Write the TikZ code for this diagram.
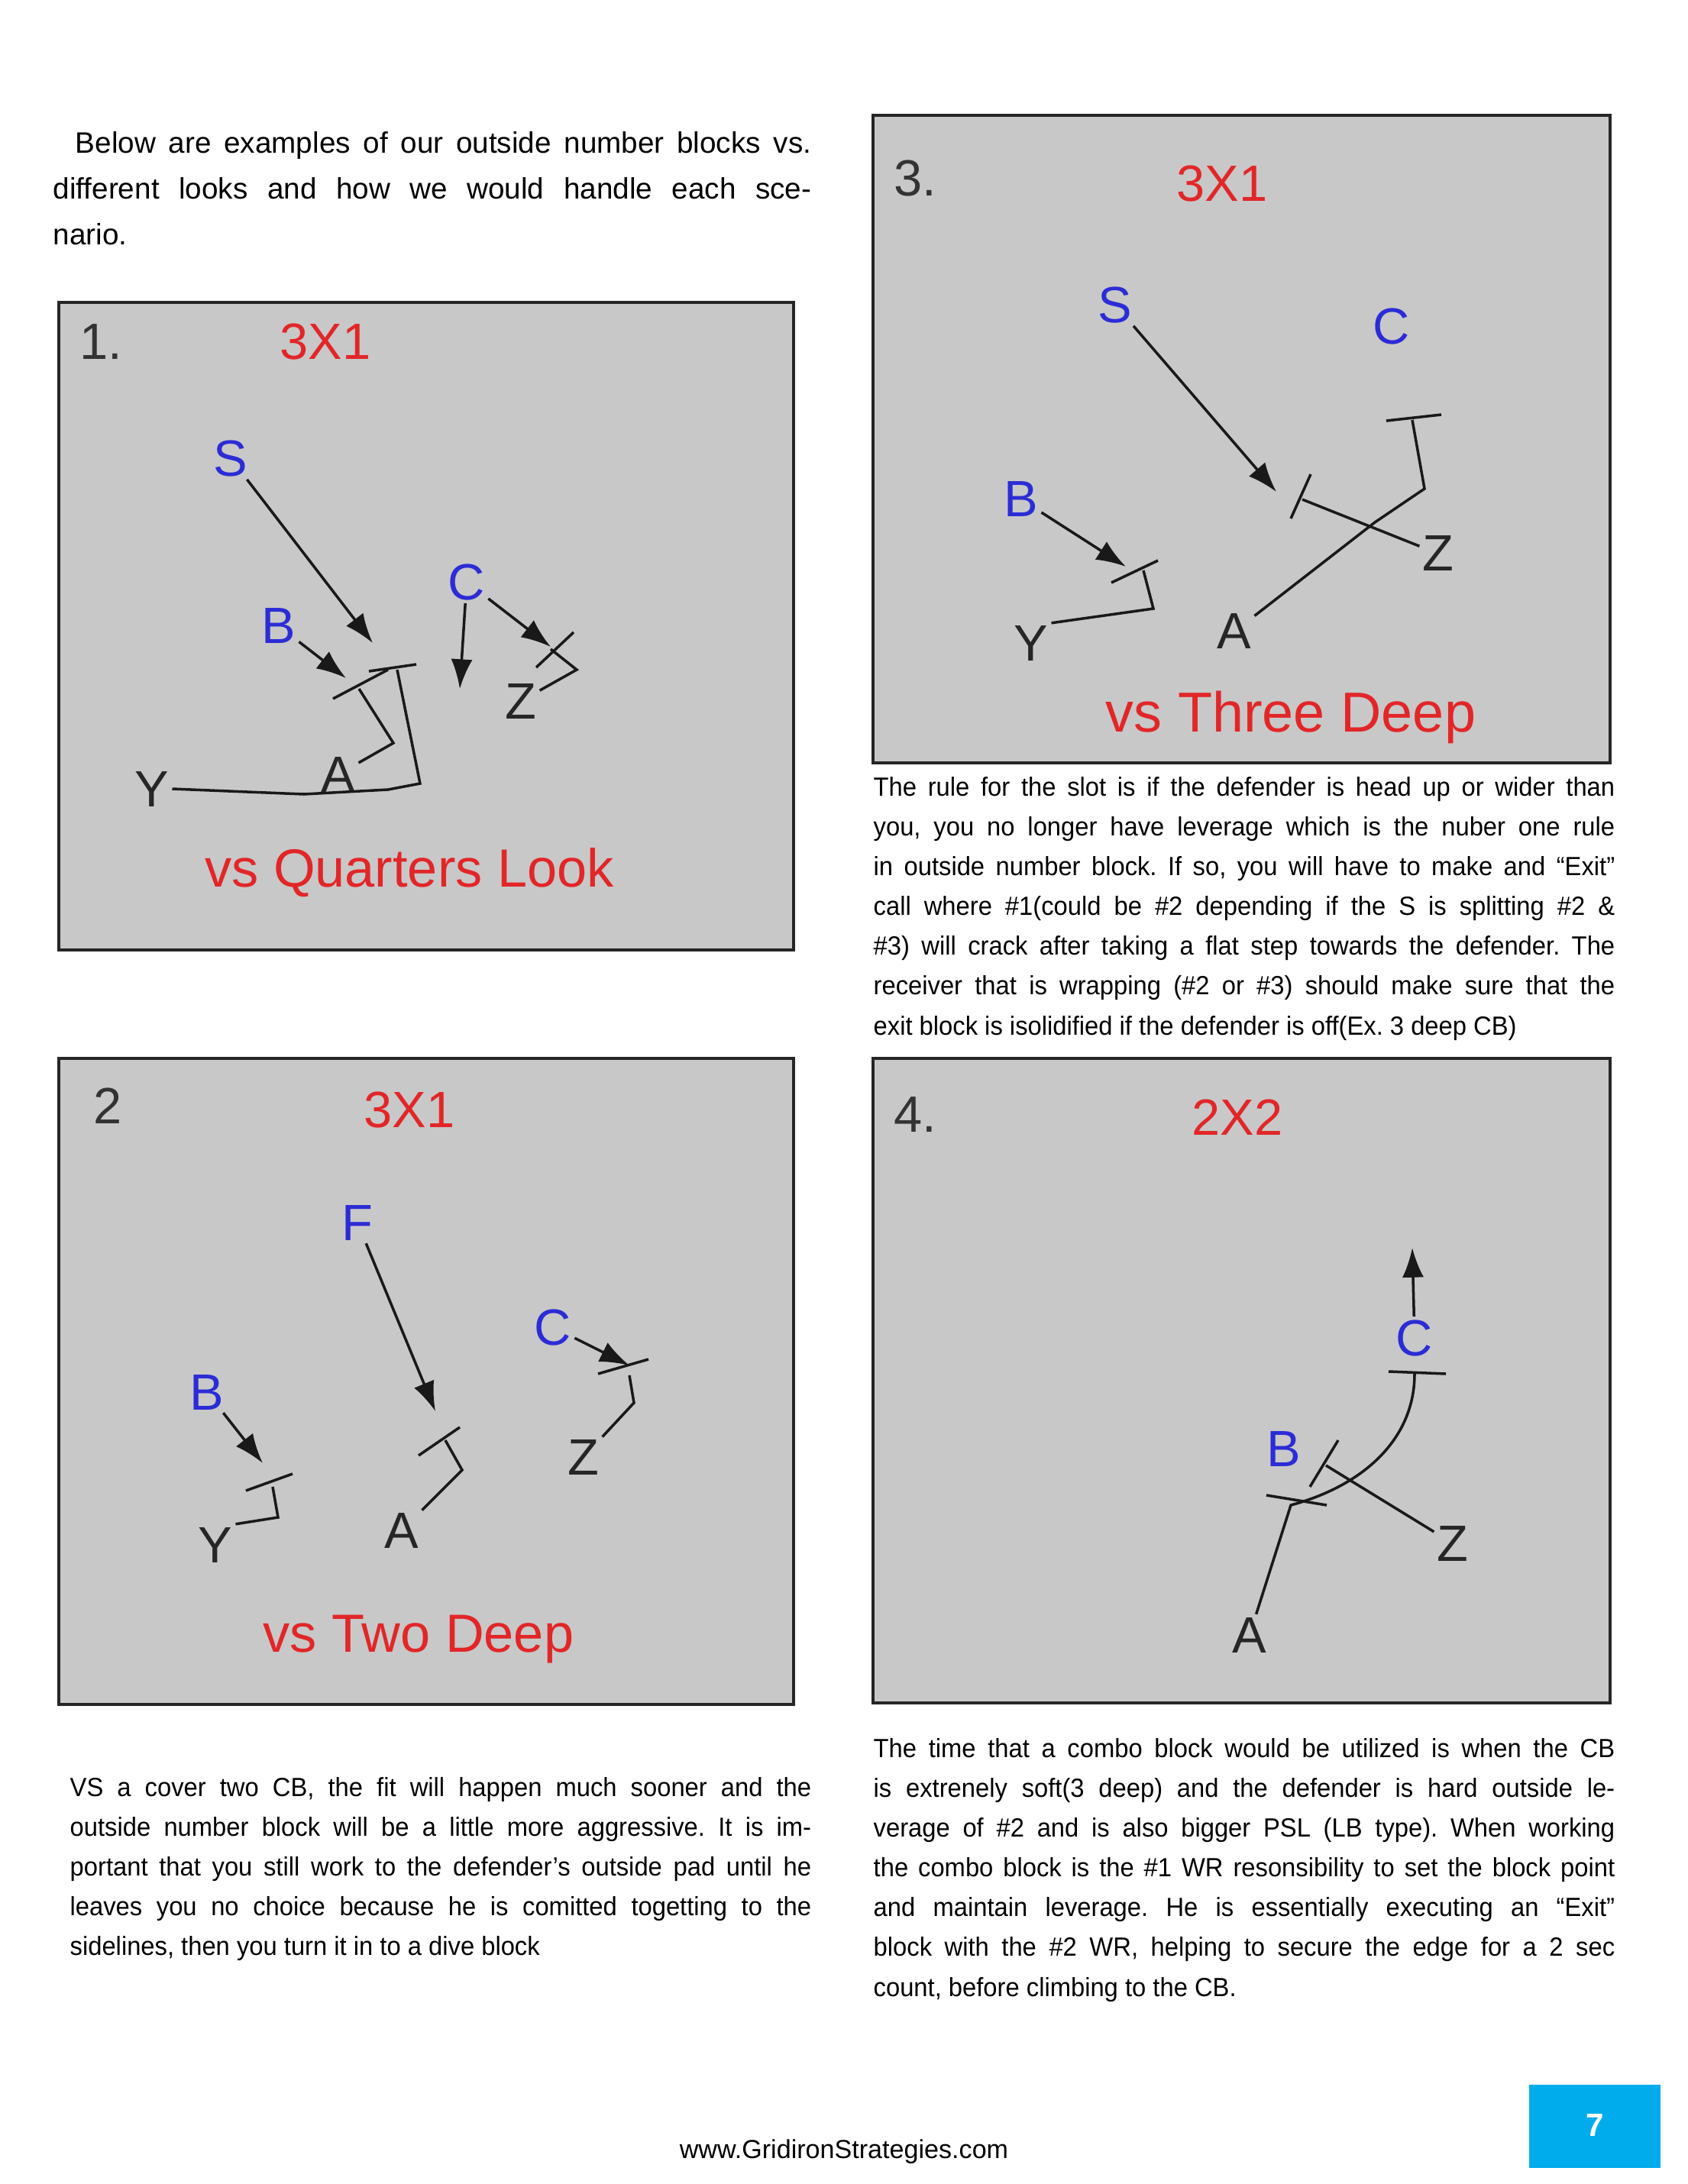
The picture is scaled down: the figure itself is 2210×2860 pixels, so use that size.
\documentclass[tikz,border=0pt]{standalone}
\usepackage{fontspec}
\setmainfont{Liberation Sans}
\newfontfamily\bodyfont[Ligatures=TeX,FakeStretch=0.95]{Liberation Sans}
\usetikzlibrary{arrows.meta}
\tolerance=10000
\hyphenpenalty=10000
\frenchspacing

\definecolor{playred}{RGB}{226,38,40}
\definecolor{playblue}{RGB}{44,44,214}
\definecolor{fieldgray}{RGB}{200,200,200}
\definecolor{tabcyan}{RGB}{0,172,236}

\tikzset{
  playbox/.style={fill=fieldgray,draw=black!85,line width=1.3pt},
  player/.style={font=\fontsize{19}{19}\selectfont,inner sep=1pt},
  offense/.style={player,text=black!85},
  defense/.style={player,text=playblue},
  numlabel/.style={player,text=black!80},
  formation/.style={player,text=playred},
  caption/.style={font=\fontsize{20}{20}\selectfont,text=playred},
  route/.style={line width=1pt,black!90},
  rush/.style={route,-{Latex[length=11pt,width=8pt]}},
  blockbar/.style={line width=1pt,black!90},
  para/.style={anchor=north west,inner sep=0pt,text width=9.7cm,align=justify,
    font=\bodyfont\fontsize{9.8}{14.8}\selectfont}
}

\begin{document}
\begin{tikzpicture}[x=0.01cm,y=-0.01cm]
\fill[white] (0,0) rectangle (2210,2860);
\useasboundingbox (0,0) rectangle (2210,2860);

% intro text
\node[para,text width=9.92cm,font=\fontsize{11}{17.07}\selectfont] (intro) at (69,158)
  {\strut\hspace*{0.29cm}Below are examples of our outside number blocks vs.\linebreak
   different looks and how we would handle each sce-\linebreak nario.};

% 1. vs quarters
\begin{scope}[shift={(77,396)}]
\draw[playbox] (0,0) rectangle (962,848);
\node[numlabel] (num1) at (55,52) {1.};
\node[formation] (form1) at (349,51) {3X1};
\node[defense] (s1) at (225,204) {S};
\node[defense] (b1) at (288,424) {B};
\node[defense] (c1) at (534,366) {C};
\node[offense] (z1) at (605,522) {Z};
\node[offense] (y1) at (122,637) {Y};
\node[offense] (a1) at (366,618) {A};
\node[caption] (cap1) at (459,747) {vs Quarters Look};
\coordinate (s1end) at (411,446);
\coordinate (b1end) at (376,492);
\coordinate (c1in) at (525,506);
\coordinate (c1out) at (644,451);
\coordinate (y1blk) at (443,481);
\coordinate (a1blk) at (393,506);
\coordinate (z1blk) at (644,454);
\draw[rush] (s1) -- (s1end);
\draw[rush] (b1) -- (b1end);
\draw[rush] (c1) -- (c1in);
\draw[rush] (c1) -- (c1out);
\draw[route] (y1.east) -- (321,644) -- (431,638) -- (473,630) -- (y1blk);
\draw[blockbar] (y1blk) ++(-37,2) -- ++(62,-9);
\draw[route] (a1) -- (438,577) -- (a1blk);
\draw[blockbar] (a1blk) ++(-34,13) -- ++(72,-38);
\draw[route] (z1) -- (678,481) -- (z1blk);
\draw[blockbar] (z1blk) ++(-19,24) -- ++(49,-46);
\end{scope}

% 3. vs three deep
\begin{scope}[shift={(1143,151)}]
\draw[playbox] (0,0) rectangle (965,848);
\node[numlabel] (num3) at (55,82) {3.};
\node[formation] (form3) at (457,89) {3X1};
\node[defense] (s3) at (317,248) {S};
\node[defense] (c3) at (679,276) {C};
\node[defense] (b3) at (194,503) {B};
\node[offense] (y3) at (207,692) {Y};
\node[offense] (a3) at (473,676) {A};
\node[offense] (z3) at (740,574) {Z};
\node[caption,font=\fontsize{21}{21}\selectfont] (cap3) at (547,788) {vs Three Deep};
\coordinate (s3end) at (528,493);
\coordinate (b3end) at (331,591);
\coordinate (y3blk) at (354,596);
\coordinate (a3blk) at (706,399);
\coordinate (z3blk) at (562,503);
\draw[rush] (s3) -- (s3end);
\draw[rush] (b3) -- (b3end);
\draw[route] (y3.north east) -- (367,646) -- (y3blk);
\draw[blockbar] (y3blk) ++(-42,16) -- ++(61,-29);
\draw[route] (a3) -- (657,533) -- (722,489) -- (a3blk);
\draw[blockbar] (a3blk) ++(-34,1) -- ++(72,-8);
\draw[route] (z3) -- (z3blk);
\draw[blockbar] (z3blk) ++(-15,25) -- ++(26,-58);
\end{scope}

\node[para] (slotrule) at (1143,1005.6)
  {\strut The rule for the slot is if the defender is head up or wider than\linebreak
   you, you no longer have leverage which is the nuber one rule\linebreak
   in outside number block. If so, you will have to make and ``Exit''\linebreak
   call where \#1(could be \#2 depending if the S is splitting \#2 \&\linebreak
   \#3) will crack after taking a flat step towards the defender. The\linebreak
   receiver that is wrapping (\#2 or \#3) should make sure that the\linebreak
   exit block is isolidified if the defender is off(Ex. 3 deep CB)};

% 2. vs two deep
\begin{scope}[shift={(77,1386)}]
\draw[playbox] (0,0) rectangle (962,846);
\node[numlabel] (num2) at (64,62) {2};
\node[formation] (form2) at (459,67) {3X1};
\node[defense] (f2) at (391,215) {F};
\node[defense] (c2) at (647,352) {C};
\node[defense] (b2) at (194,437) {B};
\node[offense] (y2) at (205,637) {Y};
\node[offense] (a2) at (449,618) {A};
\node[offense] (z2) at (687,522) {Z};
\node[caption] (cap2) at (471,761) {vs Two Deep};
\coordinate (f2end) at (493,462);
\coordinate (b2end) at (267,530);
\coordinate (c2end) at (747,402);
\coordinate (y2blk) at (280,561);
\coordinate (a2blk) at (506,500);
\coordinate (z2blk) at (747,415);
\draw[rush] (f2) -- (f2end);
\draw[rush] (b2) -- (b2end);
\draw[rush] (c2) -- (c2end);
\draw[route] (y2.north east) -- (287,601) -- (y2blk);
\draw[blockbar] (y2blk) ++(-35,5) -- ++(61,-22);
\draw[route] (a2) -- (528,539) -- (a2blk);
\draw[blockbar] (a2blk) ++(-35,20) -- ++(54,-37);
\draw[route] (z2) -- (753,451) -- (z2blk);
\draw[blockbar] (z2blk) ++(-41,-2) -- ++(66,-19);
\end{scope}

% 4. 2x2 combo
\begin{scope}[shift={(1143,1386)}]
\draw[playbox] (0,0) rectangle (965,844);
\node[numlabel] (num4) at (55,73) {4.};
\node[formation] (form4) at (477,77) {2X2};
\node[defense] (c4) at (709,366) {C};
\node[defense] (b4) at (538,511) {B};
\node[offense] (z4) at (759,635) {Z};
\node[offense] (a4) at (493,755) {A};
\coordinate (c4end) at (706,248);
\coordinate (c4blk) at (709,413);
\coordinate (a4turn) at (547,585);
\coordinate (z4blk) at (593,533);
\draw[rush] (c4) -- (c4end);
\draw[blockbar] (c4blk) ++(-34,-3) -- ++(75,3);
\draw[route] (a4) -- (a4turn) .. controls (640,560) and (709,500) .. (c4blk);
\draw[blockbar] (a4turn) ++(-32,-13) -- ++(79,13);
\draw[route] (z4) -- (z4blk);
\draw[blockbar] (z4blk) ++(-21,28) -- ++(37,-61);
\end{scope}

\node[para] (covertwo) at (91,2315.6)
  {\strut VS a cover two CB, the fit will happen much sooner and the\linebreak
   outside number block will be a little more aggressive. It is im-\linebreak
   portant that you still work to the defender's outside pad until he\linebreak
   leaves you no choice because he is comitted togetting to the\linebreak
   sidelines, then you turn it in to a dive block};

\node[para] (combo) at (1143,2264.6)
  {\strut The time that a combo block would be utilized is when the CB\linebreak
   is extrenely soft(3 deep) and the defender is hard outside le-\linebreak
   verage of \#2 and is also bigger PSL (LB type). When working\linebreak
   the combo block is the \#1 WR resonsibility to set the block point\linebreak
   and maintain leverage. He is essentially executing an ``Exit''\linebreak
   block with the \#2 WR, helping to secure the edge for a 2 sec\linebreak
   count, before climbing to the CB.};

% footer
\node[anchor=base,font=\fontsize{9.7}{12}\selectfont] (site) at (1105,2826) {www.GridironStrategies.com};
\fill[tabcyan] (2002,2730) rectangle (2174,2839);
\node[text=white,font=\bfseries\fontsize{12}{14}\selectfont] (pagenum) at (2088,2783) {7};
\end{tikzpicture}
\end{document}
